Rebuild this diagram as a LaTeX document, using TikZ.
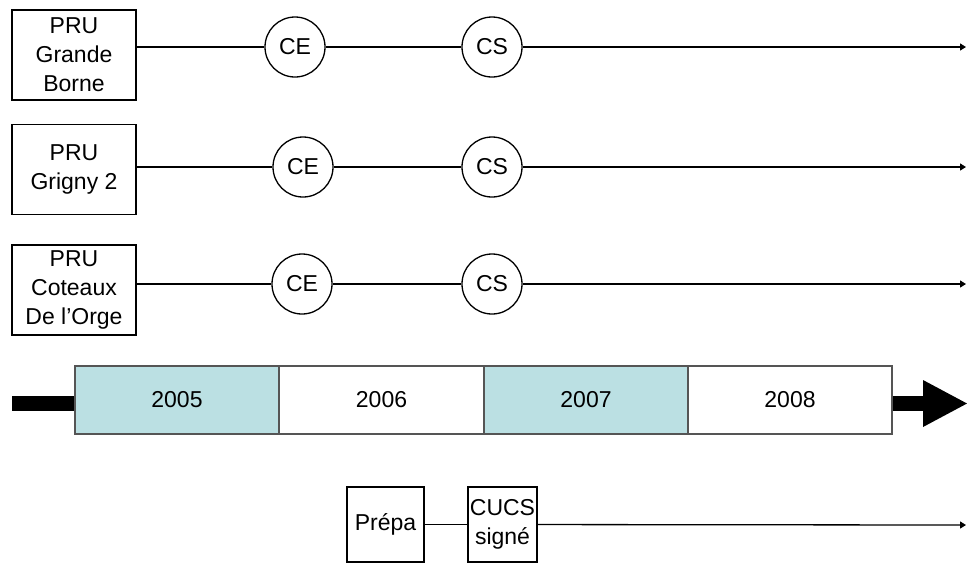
\documentclass[tikz,border=0pt]{standalone}
\usepackage{fontspec}
\setmainfont{Liberation Sans}
\usetikzlibrary{shapes,arrows,arrows.meta,positioning,calc}
\definecolor{yearblue}{RGB}{187,224,227}
\definecolor{yeargray}{RGB}{85,85,85}

\begin{document}
\begin{tikzpicture}[x=0.5pt, y=-0.5pt, line width=0.65pt,
    font=\fontsize{11.5}{14.5}\selectfont,
    prubox/.style={draw, align=center, minimum width=62pt, minimum height=45pt, inner sep=0pt},
    jalon/.style={draw, circle, minimum size=30pt, inner sep=0pt},
    yearbox/.style={draw=yeargray, minimum width=102pt, minimum height=34pt, inner sep=0pt},
    smallbox/.style={draw, align=center, minimum height=37.5pt, inner sep=0pt},
    tip/.style={-{Triangle[length=3pt,width=3.5pt]}}]
    \useasboundingbox (0,0) rectangle (967,563);

    \node[prubox] (gb) at (74,55) {PRU\\Grande\\Borne};
    \node[jalon] (ce1) at (295,47) {CE};
    \node[jalon] (cs1) at (492,47) {CS};
    \coordinate (end1) at (966,47);
    \draw (gb.east |- ce1) -- (ce1);
    \draw (ce1) -- (cs1);
    \draw[tip] (cs1) -- (end1);

    \node[prubox] (g2) at (74,169.5) {PRU\\Grigny 2};
    \node[jalon] (ce2) at (303,167) {CE};
    \node[jalon] (cs2) at (492,167) {CS};
    \coordinate (end2) at (966,167);
    \draw (g2.east |- ce2) -- (ce2);
    \draw (ce2) -- (cs2);
    \draw[tip] (cs2) -- (end2);

    \node[prubox] (co) at (74,290) {PRU\\Coteaux\\De l’Orge};
    \node[jalon] (ce3) at (302,284) {CE};
    \node[jalon] (cs3) at (492,284) {CS};
    \coordinate (end3) at (966,284);
    \draw (co.east |- ce3) -- (ce3);
    \draw (ce3) -- (cs3);
    \draw[tip] (cs3) -- (end3);

    % Timeline
    \node[yearbox, fill=yearblue] (y2005) at (177,400) {2005};
    \node[yearbox] (y2006) at (381.5,400) {2006};
    \node[yearbox, fill=yearblue] (y2007) at (586,400) {2007};
    \node[yearbox] (y2008) at (790,400) {2008};
    \coordinate (tstart) at (12,403.5);
    \coordinate (tend) at (967,403.5);
    \draw[line width=7.5pt] (tstart) -- (y2005.west |- tstart);
    \draw[line width=7.5pt, -{Triangle[length=22pt,width=23.5pt,line width=0pt]}] (y2008.east |- tstart) -- (tend);

    \node[smallbox, minimum width=38.5pt] (prepa) at (385.5,524.5) {Prépa};
    \node[smallbox, minimum width=34.5pt] (cucs) at (502.5,524.5) {CUCS\\signé};
    \coordinate (end4) at (966,525);
    \draw (prepa) -- (cucs);
    \draw[tip] (cucs) -- (end4);
\end{tikzpicture}
\end{document}
